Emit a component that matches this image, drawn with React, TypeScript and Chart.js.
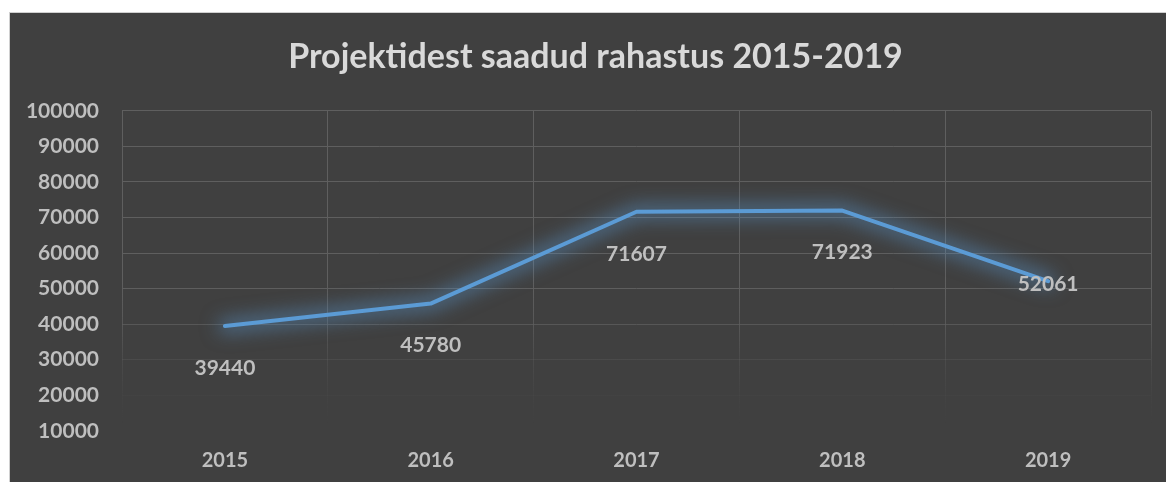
import React, { useEffect, useRef } from "react";
import { Chart, registerables } from "chart.js";

Chart.register(...registerables);

const TITLE = "Projektidest saadud rahastus 2015-2019";
const years = ["2015", "2016", "2017", "2018", "2019"];
const funding = [39440, 45780, 71607, 71923, 52061];
const labelPlacement = ["below", "below", "below", "below", "center"];
const yTickValues = [10000, 20000, 30000, 40000, 50000, 60000, 70000, 80000, 90000, 100000];
const yAxisMin = 5600;
const yAxisMax = 100000;

const FONT = "Lato, 'Open Sans', 'DejaVu Sans', sans-serif";
const BG = "#404040";
const LABEL_COLOR = "#bfbfbf";
const LINE_COLOR = "#5b9bd5";

let gradCache: { key: string; grad: CanvasGradient } | null = null;
function gridColor(ctx: any) {
  const chart = ctx.chart;
  const area = chart.chartArea;
  const yScale = chart.scales && chart.scales.y;
  if (!area || !yScale) return "#5f5f5f";
  const key = `${area.top}-${area.bottom}`;
  if (gradCache && gradCache.key === key) return gradCache.grad;
  const g = chart.ctx.createLinearGradient(0, area.top, 0, area.bottom);
  const h = area.bottom - area.top;
  const stop = (v: number, a: number) => {
    const f = Math.min(1, Math.max(0, (yScale.getPixelForValue(v) - area.top) / h));
    g.addColorStop(f, `rgba(95,95,95,${a})`);
  };
  stop(yAxisMax, 1);
  stop(52000, 1);
  stop(40000, 0.75);
  stop(30000, 0.35);
  stop(20000, 0.1);
  stop(12000, 0);
  gradCache = { key, grad: g };
  return g;
}

// the original chart frame is wider than the visible crop: centre the title over it
const titleOffsetPlugin = {
  id: "titleOffset",
  afterLayout(chart: any) {
    const t = chart.titleBlock;
    if (t) t.left = 30;
  },
};

// soft blue glow behind the line, drawn as the shadow of an off-screen stroke
const glowPlugin = {
  id: "glow",
  beforeDatasetDraw(chart: any) {
    const c = chart.ctx;
    const pts = chart.getDatasetMeta(0).data;
    if (!pts.length) return;
    const off = 10000;
    c.save();
    c.shadowColor = "rgba(91,155,213,0.5)";
    c.shadowBlur = 18;
    c.shadowOffsetX = off;
    c.shadowOffsetY = 0;
    c.strokeStyle = "#000";
    c.lineWidth = 14;
    c.lineJoin = "round";
    c.lineCap = "round";
    c.beginPath();
    pts.forEach((p: any, i: number) => {
      if (i === 0) c.moveTo(p.x - off, p.y);
      else c.lineTo(p.x - off, p.y);
    });
    c.stroke();
    c.restore();
  },
};

const valueLabelPlugin = {
  id: "valueLabels",
  afterDatasetsDraw(chart: any) {
    const c = chart.ctx;
    const meta = chart.getDatasetMeta(0);
    c.save();
    c.font = `bold 21px ${FONT}`;
    c.fillStyle = LABEL_COLOR;
    c.textAlign = "center";
    c.textBaseline = "middle";
    meta.data.forEach((pt: any, i: number) => {
      const dy = labelPlacement[i] === "below" ? 42 : 3;
      c.fillText(String(funding[i]), pt.x, pt.y + dy);
    });
    c.restore();
  },
};

export default function App() {
  const ref = useRef<HTMLCanvasElement | null>(null);

  useEffect(() => {
    document.body.style.overflow = "hidden";
    if (!ref.current) return;
    const chart = new Chart(ref.current, {
      type: "line",
      data: {
        labels: years,
        datasets: [
          {
            data: funding,
            borderColor: LINE_COLOR,
            borderWidth: 4,
            pointRadius: 0,
            pointHoverRadius: 0,
            tension: 0,
            fill: false,
            borderCapStyle: "round",
            borderJoinStyle: "round",
          },
        ],
      },
      options: {
        responsive: false,
        animation: false,
        layout: { padding: { left: 0, right: 15, top: 0, bottom: 0 } },
        plugins: {
          legend: { display: false },
          tooltip: { enabled: false },
          title: {
            display: true,
            text: TITLE,
            color: "#d9d9d9",
            font: { family: FONT, size: 34, weight: "bold" },
            padding: { top: 24, bottom: 33 },
          },
        },
        scales: {
          x: {
            offset: true,
            grid: {
              offset: true,
              color: gridColor,
              lineWidth: 1,
              drawTicks: false,
            },
            border: { display: false },
            ticks: {
              color: LABEL_COLOR,
              font: { family: FONT, size: 20, weight: "bold" },
              padding: 2,
              maxRotation: 0,
            },
          },
          y: {
            min: yAxisMin,
            max: yAxisMax,
            grid: {
              color: gridColor,
              lineWidth: 1,
              drawTicks: false,
            },
            border: { display: false },
            afterBuildTicks(scale: any) {
              scale.ticks = yTickValues.map((v) => ({ value: v }));
            },
            ticks: {
              color: LABEL_COLOR,
              font: { family: FONT, size: 21, weight: "bold" },
              padding: 23,
              callback: (v: any) => String(v),
            },
            afterFit(scale: any) {
              scale.width = 112;
            },
          },
        },
      },
      plugins: [titleOffsetPlugin, glowPlugin, valueLabelPlugin],
    });
    return () => chart.destroy();
  }, []);

  return (
    <div
      style={{
        position: "absolute",
        left: 9,
        top: 12,
        width: 1157,
        height: 470,
        boxSizing: "border-box",
        background: BG,
        borderLeft: "1px solid #d0d0d0",
        borderTop: "1px solid #d0d0d0",
      }}
    >
      <canvas ref={ref} width={1156} height={469} style={{ display: "block" }} />
    </div>
  );
}
